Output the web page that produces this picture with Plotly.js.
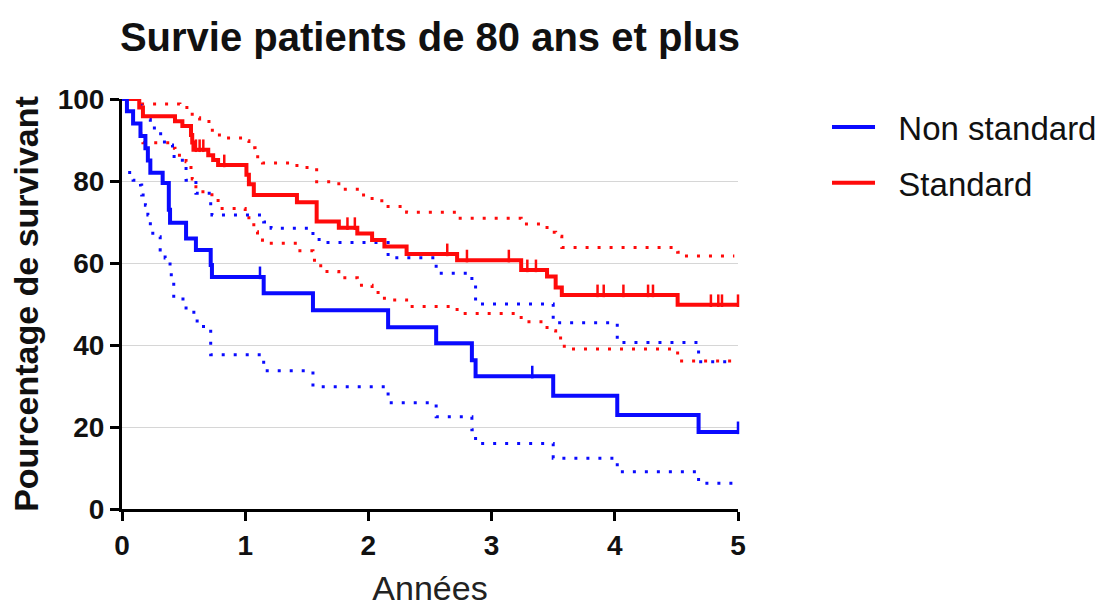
<!DOCTYPE html>
<html>
<head>
<meta charset="utf-8">
<script src="https://cdn.plot.ly/plotly-3.0.1.min.js"></script>
<style>
  html, body { margin: 0; padding: 0; background: #ffffff; }
  #chart { width: 1106px; height: 611px; }
</style>
</head>
<body>
<div id="chart"></div>
<script>
// Kaplan-Meier survival, patients aged 80 and over (time in years, survival in %)

// Non standard group: survival curve
const nsTime = [0, 0.04, 0.09, 0.15, 0.19, 0.21, 0.23, 0.33, 0.38, 0.39, 0.52, 0.60, 0.72, 0.73, 1.15, 1.55, 2.16, 2.55, 2.84, 2.87, 3.50, 4.02, 4.68, 5.0];
const nsSurv = [100, 97, 94, 91, 88, 85, 82, 79.5, 73, 69.8, 66, 63.2, 59.5, 56.6, 52.6, 48.5, 44.3, 40.4, 36.3, 32.4, 27.6, 22.9, 18.8, 18.8];
const nsCensored = [0.02, 1.12, 3.33, 5.0];

// Non standard group: confidence band
const nsUpperTime = [0, 0.11, 0.17, 0.23, 0.30, 0.33, 0.39, 0.41, 0.49, 0.52, 0.60, 0.72, 0.73, 1.15, 1.21, 1.55, 1.60, 2.16, 2.55, 2.84, 2.87, 3.50, 4.02, 4.68, 4.97];
const nsUpper     = [100, 98.4, 95, 92.9, 91.5, 89.5, 88.8, 86, 84.7, 80.2, 77, 74, 71.7, 70, 68.5, 66.4, 65, 61.3, 57.5, 54.6, 50, 45.4, 40.6, 35.9, 35.9];
const nsLowerTime = [0.05, 0.09, 0.15, 0.16, 0.19, 0.21, 0.23, 0.25, 0.31, 0.35, 0.39, 0.40, 0.42, 0.52, 0.61, 0.72, 1.15, 1.55, 2.16, 2.55, 2.84, 2.87, 3.50, 4.02, 4.68, 4.97];
const nsLower     = [82.1, 80.2, 79, 76.6, 74.1, 71.7, 68.9, 66.4, 63.2, 61.2, 59.3, 56.7, 51.2, 48, 44.5, 37.6, 33.7, 29.8, 25.9, 22.5, 19.3, 16, 12.4, 9.1, 6.3, 6.3];

// Standard group: survival curve
const stTime = [0, 0.14, 0.17, 0.43, 0.49, 0.56, 0.57, 0.58, 0.70, 0.74, 0.78, 1.01, 1.03, 1.07, 1.42, 1.58, 1.76, 1.91, 2.03, 2.13, 2.31, 2.72, 3.24, 3.45, 3.52, 3.57, 4.51, 5.0];
const stSurv = [100, 97.9, 95.8, 94.6, 93.4, 91.2, 89.4, 87.6, 86.3, 85.1, 83.9, 81.5, 79.2, 76.6, 74.8, 70.1, 68.6, 67.2, 65.6, 64, 62.2, 60.7, 58.3, 56.7, 54, 52.2, 49.8, 49.8];
const stCensored = [0.60, 0.63, 0.66, 0.83, 1.83, 1.89, 2.64, 2.80, 3.14, 3.29, 3.36, 3.86, 3.91, 4.07, 4.27, 4.31, 4.78, 4.84, 4.87, 5.0];

// Standard group: confidence band
const stUpperTime = [0, 0.14, 0.47, 0.55, 0.57, 0.63, 0.72, 0.77, 0.84, 0.99, 1.03, 1.08, 1.14, 1.42, 1.58, 1.76, 1.91, 2.03, 2.13, 2.31, 2.72, 3.24, 3.45, 3.52, 3.57, 4.51, 4.55, 4.97];
const stUpper     = [100, 98.8, 97.9, 97, 95.4, 94.5, 92.4, 91.2, 90.5, 89.8, 88.1, 85.9, 84.4, 83.3, 79.8, 78, 76.6, 75.2, 73.8, 72.4, 70.9, 69.5, 67.5, 66.5, 63.8, 62.6, 61.7, 61.7];
const stLowerTime = [0.14, 0.17, 0.41, 0.43, 0.49, 0.52, 0.56, 0.57, 0.60, 0.63, 0.73, 0.78, 1.0, 1.03, 1.07, 1.10, 1.14, 1.42, 1.55, 1.58, 1.64, 1.76, 1.91, 2.03, 2.13, 2.31, 2.72, 3.24, 3.45, 3.52, 3.56, 3.59, 4.51, 4.97];
const stLower     = [91.5, 89.3, 88, 86.3, 85.9, 84.7, 82.7, 80.5, 78.6, 77.4, 76.2, 73.3, 72.1, 70.1, 67.6, 65.6, 64.8, 63.0, 60.7, 59.3, 57.9, 56.4, 54.6, 52.8, 51, 49.4, 47.7, 45.7, 43.5, 42.4, 40.4, 39, 36.1, 36.1];

const groupNames = ['Non standard', 'Standard'];
const xTicks = [0, 1, 2, 3, 4, 5];
const yTicks = [0, 20, 40, 60, 80, 100];

const BLUE = '#0a0aff';
const RED = '#ff0a0a';
const FONT = 'Liberation Sans, Arial, Helvetica, sans-serif';
const LEGEND_PAD = '\u00a0\u00a0';

// survival level of a step curve at time t
function levelAt(times, surv, t) {
  let v = surv[0];
  for (let i = 0; i < times.length; i++) {
    if (times[i] <= t + 1e-9) v = surv[i]; else break;
  }
  return v;
}

function band(times, vals, color) {
  return {
    x: times, y: vals, type: 'scatter', mode: 'lines',
    line: { shape: 'hv', color: color, width: 3, dash: '3px,9px' },
    showlegend: false, hoverinfo: 'skip', cliponaxis: false
  };
}

function curve(times, vals, color, name, rank) {
  return {
    x: times, y: vals, type: 'scatter', mode: 'lines', name: LEGEND_PAD + name,
    legendgroup: name, legendrank: rank,
    line: { shape: 'hv', color: color, width: 4 },
    cliponaxis: false
  };
}

// censoring marks sit just above the curve
const TICK_LIFT = 1.0;
function censorMarks(cens, times, surv, color, name) {
  return {
    x: cens,
    y: cens.map(t => levelAt(times, surv, t) + TICK_LIFT),
    type: 'scatter', mode: 'markers', legendgroup: name, showlegend: false,
    marker: { symbol: 'line-ns', size: 9, line: { color: color, width: 2.5 } },
    hoverinfo: 'skip', cliponaxis: false
  };
}

const data = [
  band(stUpperTime, stUpper, RED),
  band(stLowerTime, stLower, RED),
  band(nsUpperTime, nsUpper, BLUE),
  band(nsLowerTime, nsLower, BLUE),
  curve(stTime, stSurv, RED, groupNames[1], 2),
  curve(nsTime, nsSurv, BLUE, groupNames[0], 1),
  censorMarks(stCensored, stTime, stSurv, RED, groupNames[1]),
  censorMarks(nsCensored, nsTime, nsSurv, BLUE, groupNames[0])
];

const axisCommon = {
  showline: true, linecolor: '#000000', linewidth: 3,
  ticks: 'outside', ticklen: 9, tickwidth: 3, tickcolor: '#000000',
  zeroline: false, fixedrange: true,
  tickfont: { family: FONT, size: 28, color: '#111111', weight: 'bold' }
};

const layout = {
  width: 1106, height: 611,
  paper_bgcolor: '#ffffff', plot_bgcolor: '#ffffff',
  margin: { l: 122, r: 368, t: 99, b: 102, autoexpand: false },
  title: {
    text: 'Survie patients de 80 ans et plus',
    font: { family: FONT, size: 40, color: '#111111', weight: 'bold' },
    x: 0.5, xref: 'paper', xanchor: 'center',
    y: 1 - 37 / 611, yref: 'container', yanchor: 'middle'
  },
  xaxis: Object.assign({}, axisCommon, {
    range: [0, 5], tickvals: xTicks, showgrid: false,
    title: { text: 'Années', standoff: 17, font: { family: FONT, size: 34, color: '#222222' } }
  }),
  yaxis: Object.assign({}, axisCommon, {
    range: [0, 100], tickvals: yTicks, showgrid: true, gridcolor: '#d6d6d6', gridwidth: 1,
    title: { text: 'Pourcentage de survivant', standoff: 9, font: { family: FONT, size: 34, color: '#111111', weight: 'bold' } }
  }),
  legend: {
    x: 1.1445, xanchor: 'left', y: 1.0, yanchor: 'top',
    traceorder: 'grouped', tracegroupgap: 10, itemwidth: 43,
    font: { family: FONT, size: 33, color: '#111111' },
    bgcolor: 'rgba(0,0,0,0)'
  },
  showlegend: true
};

Plotly.newPlot('chart', data, layout, { displayModeBar: false, staticPlot: true });
</script>
</body>
</html>
